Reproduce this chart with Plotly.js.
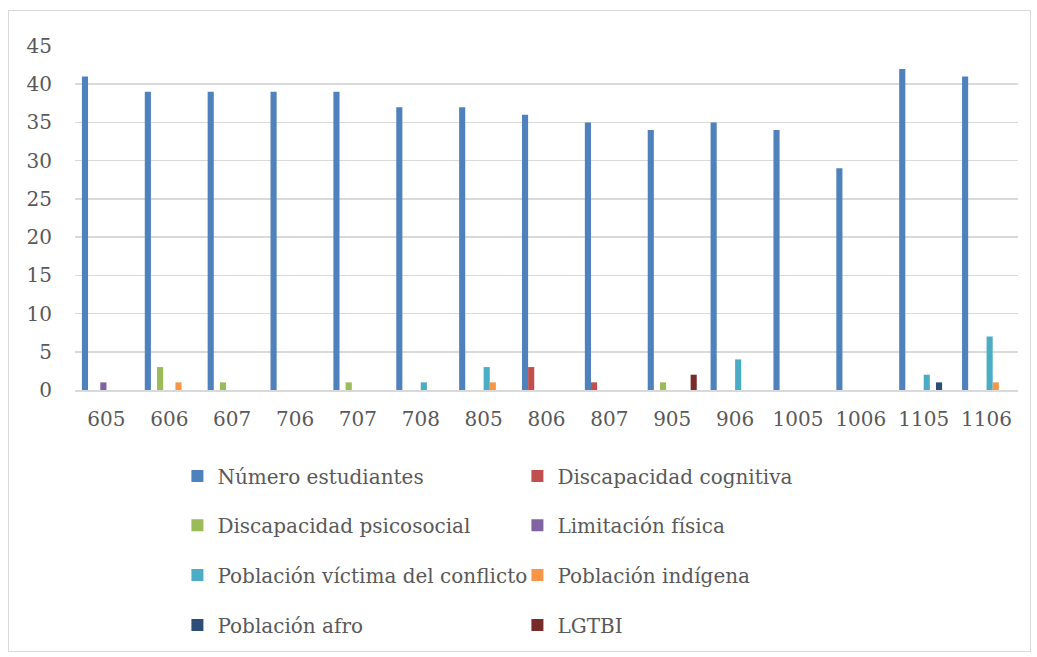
<!DOCTYPE html>
<html>
<head>
<meta charset="utf-8">
<script src="https://cdn.plot.ly/plotly-3.0.1.min.js"></script>
<style>
html,body{margin:0;padding:0;background:#fff;}
#wrap{position:relative;width:1037px;height:657px;}
#chart{position:absolute;left:0;top:0;width:1037px;height:657px;}
#frame{position:absolute;left:8px;top:10px;width:1021px;height:640px;border:1px solid #D9D9D9;pointer-events:none;}
</style>
</head>
<body>
<div id="wrap"><div id="chart"></div><div id="frame"></div></div>
<script>
const categories = ["605","606","607","706","707","708","805","806","807","905","906","1005","1006","1105","1106"];
const seriesNames = ["Número estudiantes","Discapacidad cognitiva","Discapacidad psicosocial","Limitación física","Población víctima del conflicto","Población indígena","Población afro","LGTBI"];
const numeroEstudiantes      = [41,39,39,39,39,37,37,36,35,34,35,34,29,42,41];
const discapacidadCognitiva  = [0,0,0,0,0,0,0,3,1,0,0,0,0,0,0];
const discapacidadPsicosocial= [0,3,1,0,1,0,0,0,0,1,0,0,0,0,0];
const limitacionFisica       = [1,0,0,0,0,0,0,0,0,0,0,0,0,0,0];
const victimaConflicto       = [0,0,0,0,0,1,3,0,0,0,4,0,0,2,7];
const poblacionIndigena      = [0,1,0,0,0,0,1,0,0,0,0,0,0,0,1];
const poblacionAfro          = [0,0,0,0,0,0,0,0,0,0,0,0,0,1,0];
const lgtbi                  = [0,0,0,0,0,0,0,0,0,2,0,0,0,0,0];
const yTicks = [0,5,10,15,20,25,30,35,40,45];

const seriesValues = [numeroEstudiantes,discapacidadCognitiva,discapacidadPsicosocial,limitacionFisica,victimaConflicto,poblacionIndigena,poblacionAfro,lgtbi];
const colors = ["#4F81BD","#C0504D","#9BBB59","#8064A2","#4BACC6","#F79646","#2C4D75","#772C2A"];
const legendIds = ["legend","legend","legend2","legend2","legend3","legend3","legend4","legend4"];

const traces = seriesValues.map((vals,i)=>({
  type:'bar', x:categories, y:vals, name:seriesNames[i],
  marker:{color:colors[i], line:{width:0}},
  legend:legendIds[i]
}));

const font = {family:'"DejaVu Serif", serif', color:'#595959'};
const legBase = {orientation:'h', xanchor:'left', yanchor:'middle', x:0.1086, entrywidth:295, entrywidthmode:'pixels',
  font:{family:font.family, color:'#595959', size:20}, bgcolor:'rgba(0,0,0,0)', itemwidth:30};

const layout = {
  width:1037, height:657,
  margin:{l:75, r:19, t:46, b:267},
  paper_bgcolor:'#fff', plot_bgcolor:'#fff',
  barmode:'group', bargap:0.22, bargroupgap:0,
  font:{family:font.family, color:'#595959', size:20},
  xaxis:{type:'category', showgrid:false, showline:true, linecolor:'#D9D9D9', linewidth:2, ticks:'', ticklabelstandoff:10,
    tickfont:{size:20, color:'#595959'}},
  yaxis:{range:[0,45], tickvals:yTicks, showgrid:true, gridcolor:'#D9D9D9', gridwidth:1.5, zeroline:false, showline:false, ticks:'',
    ticklabelstandoff:22, tickfont:{size:20, color:'#595959'}},
  legend:Object.assign({}, legBase, {y:-0.25}),
  legend2:Object.assign({}, legBase, {y:-0.393}),
  legend3:Object.assign({}, legBase, {y:-0.538}),
  legend4:Object.assign({}, legBase, {y:-0.683}),
  showlegend:true
};

Plotly.newPlot('chart', traces, layout, {displayModeBar:false, staticPlot:true});
</script>
</body>
</html>
